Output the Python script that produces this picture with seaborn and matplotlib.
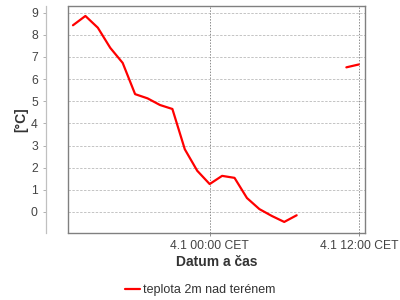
import numpy as np
import pandas as pd
import seaborn as sns
import matplotlib
matplotlib.use("Agg")
import matplotlib.pyplot as plt

# hours relative to 4.1 00:00 CET
hours = [-11, -10, -9, -8, -7, -6, -5, -4, -3, -2, -1, 0, 1, 2, 3, 4, 5, 6, 7, 11, 12]
temps = [8.43, 8.85, 8.32, 7.41, 6.73, 5.32, 5.13, 4.83, 4.65, 2.83, 1.86, 1.26,
         1.63, 1.54, 0.63, 0.13, -0.18, -0.45, -0.15, 6.53, 6.66]
segments = [0] * 19 + [1] * 2
xtick_pos = [0, 12]
xtick_labels = ["4.1 00:00 CET", "4.1 12:00 CET"]
yticks = list(range(0, 10))
series_name = "teplota 2m nad terénem"

df = pd.DataFrame({"h": hours, "t": temps, "seg": segments})

sns.set_theme(style="white")
plt.rcParams["font.family"] = ["Liberation Sans", "DejaVu Sans"]

fig = plt.figure(figsize=(4, 3), dpi=100)
ax = fig.add_axes([68 / 400, 1 - 233 / 300, (365 - 68) / 400, (233 - 6) / 300])

sns.lineplot(data=df, x="h", y="t", units="seg", estimator=None, color="#ff0000",
             linewidth=1.6, ax=ax, legend=False)

ax.set_xlim(-11.4, 12.5)
ax.set_ylim(-0.95, 9.3)
ax.set_xticks(xtick_pos)
ax.set_xticklabels(xtick_labels)
ax.set_yticks(yticks)
ax.set_xlabel("")
ax.set_ylabel("")

# grid
for y in yticks:
    ax.axhline(y, color="#c4c4c4", linewidth=0.7, linestyle=(0, (2.5, 1.5)), zorder=0)
for x in xtick_pos:
    ax.axvline(x, color="#8c8c8c", linewidth=0.7, linestyle=(0, (1.5, 1.5)), zorder=0)

# spines
for s in ["top", "right", "bottom"]:
    ax.spines[s].set_visible(True)
    ax.spines[s].set_color("#808080")
    ax.spines[s].set_linewidth(1.0)
ax.spines["left"].set_position(("outward", 16))
ax.spines["left"].set_color("#c0c0c0")
ax.spines["left"].set_linewidth(0.9)
ax.plot([0, 0], [0, 1], transform=ax.transAxes, color="#808080", linewidth=1.0,
        clip_on=False, zorder=3)

ax.tick_params(axis="y", which="both", left=True, length=2.5, width=0.7, color="#b0b0b0",
               pad=3.2, labelsize=8.7, labelcolor="#444444")
ax.tick_params(axis="x", which="both", bottom=True, length=2.5, width=0.7, color="#909090",
               pad=2.5, labelsize=8.7, labelcolor="#444444")

fig.text(216.5 / 400, 1 - 262 / 300, "Datum a čas", ha="center", va="center",
         fontsize=10, fontweight="bold", color="#333333")
fig.text(21.5 / 400, 1 - 120 / 300, "[°C]", ha="center", va="center", rotation=90,
         fontsize=10, fontweight="bold", color="#333333")

handle = plt.Line2D([], [], color="#ff0000", linewidth=1.6)
fig.legend([handle], [series_name], loc="center", bbox_to_anchor=(0.5, 1 - 290 / 300),
           frameon=False, fontsize=9, handlelength=1.2, handletextpad=0.25,
           labelcolor="#333333")

fig.savefig("out.png", dpi=100)
